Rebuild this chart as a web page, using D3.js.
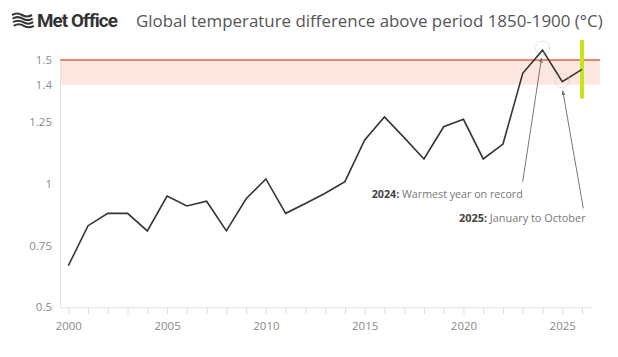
<!DOCTYPE html>
<html><head><meta charset="utf-8">
<script src="https://cdn.jsdelivr.net/npm/d3@7"></script>
<style>
html,body{margin:0;padding:0;background:#fff;}
svg{display:block;font-family:"Open Sans",Lato,sans-serif;}
</style></head>
<body><svg id="c" width="618" height="357"></svg>
<script>
const years = [2000,2001,2002,2003,2004,2005,2006,2007,2008,2009,2010,2011,2012,2013,2014,2015,2016,2017,2018,2019,2020,2021,2022,2023,2024,2025,2026];
const values = [0.668,0.83,0.88,0.88,0.809,0.95,0.91,0.929,0.809,0.939,1.019,0.88,0.92,0.961,1.008,1.177,1.27,1.186,1.10,1.23,1.26,1.10,1.16,1.446,1.54,1.412,1.462];
const yTicks = [0.5,0.75,1,1.25,1.4,1.5];
const xTickLabels = [2000,2005,2010,2015,2020,2025];
const band = [1.4,1.5];
const title = "Global temperature difference above period 1850-1900 (°C)";
const notes = [
  {year:2024, bold:"2024:", text:" Warmest year on record"},
  {year:2025, bold:"2025:", text:" January to October"}
];
const markerYear = 2026;

const svg = d3.select("#c");
const x = d3.scaleLinear().domain([1999.58,2026.49]).range([60,591.7]);
const y = d3.scaleLinear().domain([0.5,1.5]).range([307.3,60]);

// header
const logo = svg.append("g").attr("transform","translate(12,21)");
for(let i=0;i<4;i++){
  logo.append("path")
    .attr("d",`M0,${-6+i*3.6} q5,-3 10,0 t10,0`)
    .attr("transform",`translate(${i*0.6},0)`)
    .attr("fill","none").attr("stroke","#333").attr("stroke-width",2.1);
}
svg.append("text").attr("x",37).attr("y",27).attr("font-family","Roboto,'Open Sans',sans-serif")
  .attr("font-weight",700).attr("font-size",18.8).attr("letter-spacing",-0.9).attr("fill","#333").text("Met Office");
svg.append("text").attr("x",136).attr("y",27).attr("font-size",16.9).attr("fill","#555").text(title);

// band
svg.append("rect").attr("x",60).attr("width",600-60)
  .attr("y",y(band[1])).attr("height",y(band[0])-y(band[1])).attr("fill","#fde6e0");
svg.append("line").attr("x1",60).attr("x2",600).attr("y1",y(band[1])).attr("y2",y(band[1]))
  .attr("stroke","#e8896f").attr("stroke-width",2);

// y axis
const yAxis = svg.append("g").attr("transform","translate(60,0)")
  .call(d3.axisLeft(y).tickValues(yTicks).tickSize(0).tickPadding(8).tickFormat(d=>String(d)));
yAxis.select(".domain").attr("stroke","#e2e2e2").attr("stroke-width",1);
yAxis.selectAll("text").attr("fill","#8a8a8a").attr("font-size",11.5).attr("font-family","'Open Sans',sans-serif");

// x axis
const xAxis = svg.append("g").attr("transform",`translate(0,${y(0.5)})`)
  .call(d3.axisBottom(x).tickValues(years).tickSize(7).tickSizeOuter(0).tickPadding(8)
    .tickFormat(d=>xTickLabels.includes(d)?String(d):""));
xAxis.select(".domain").attr("stroke","#e2e2e2");
xAxis.selectAll(".tick line").attr("stroke","#dcdcdc");
xAxis.selectAll("text").attr("fill","#8a8a8a").attr("font-size",11.5).attr("font-family","'Open Sans',sans-serif");

// green marker
svg.append("rect").attr("x",x(markerYear)-2).attr("width",4).attr("y",40).attr("height",58.5).attr("fill","#c6e619");

// line
svg.append("path").datum(years.map((d,i)=>[d,values[i]]))
  .attr("d",d3.line().x(d=>x(d[0])).y(d=>y(d[1])))
  .attr("fill","none").attr("stroke","#333").attr("stroke-width",1.6).attr("stroke-linejoin","miter");

// dashed circles
notes.forEach(n=>{
  const v = values[years.indexOf(n.year)];
  svg.append("circle").attr("cx",x(n.year)).attr("cy",y(v)-(n.year===2024?2:1)).attr("r",7)
    .attr("fill","none").attr("stroke","#bbb").attr("stroke-width",0.8).attr("stroke-dasharray","1.5,1.5");
});

// arrows
svg.append("defs").append("marker").attr("id","ah").attr("viewBox","0 0 10 10")
  .attr("refX",9).attr("refY",5).attr("markerWidth",5).attr("markerHeight",5).attr("orient","auto")
  .append("path").attr("d","M0,1L10,5L0,9Z").attr("fill","#777");
const arrows = [
  {x1:522.7,y1:181.7,year:2024,dx:-1,dy:8},
  {x1:583.3,y1:208.3,year:2025,dx:0.5,dy:9}
];
arrows.forEach(a=>{
  const v = values[years.indexOf(a.year)];
  svg.append("line").attr("x1",a.x1).attr("y1",a.y1)
    .attr("x2",x(a.year)+a.dx).attr("y2",y(v)+a.dy)
    .attr("stroke","#777").attr("stroke-width",1).attr("marker-end","url(#ah)");
});

// annotation text
const t1 = svg.append("text").attr("x",371.7).attr("y",198).attr("font-size",10.7).attr("fill","#777");
t1.append("tspan").attr("font-weight",700).attr("fill","#444").text(notes[0].bold);
t1.append("tspan").text(notes[0].text);
const t2 = svg.append("text").attr("x",459).attr("y",222).attr("font-size",10.9).attr("fill","#777");
t2.append("tspan").attr("font-weight",700).attr("fill","#444").text(notes[1].bold);
t2.append("tspan").text(notes[1].text);
</script></body></html>
